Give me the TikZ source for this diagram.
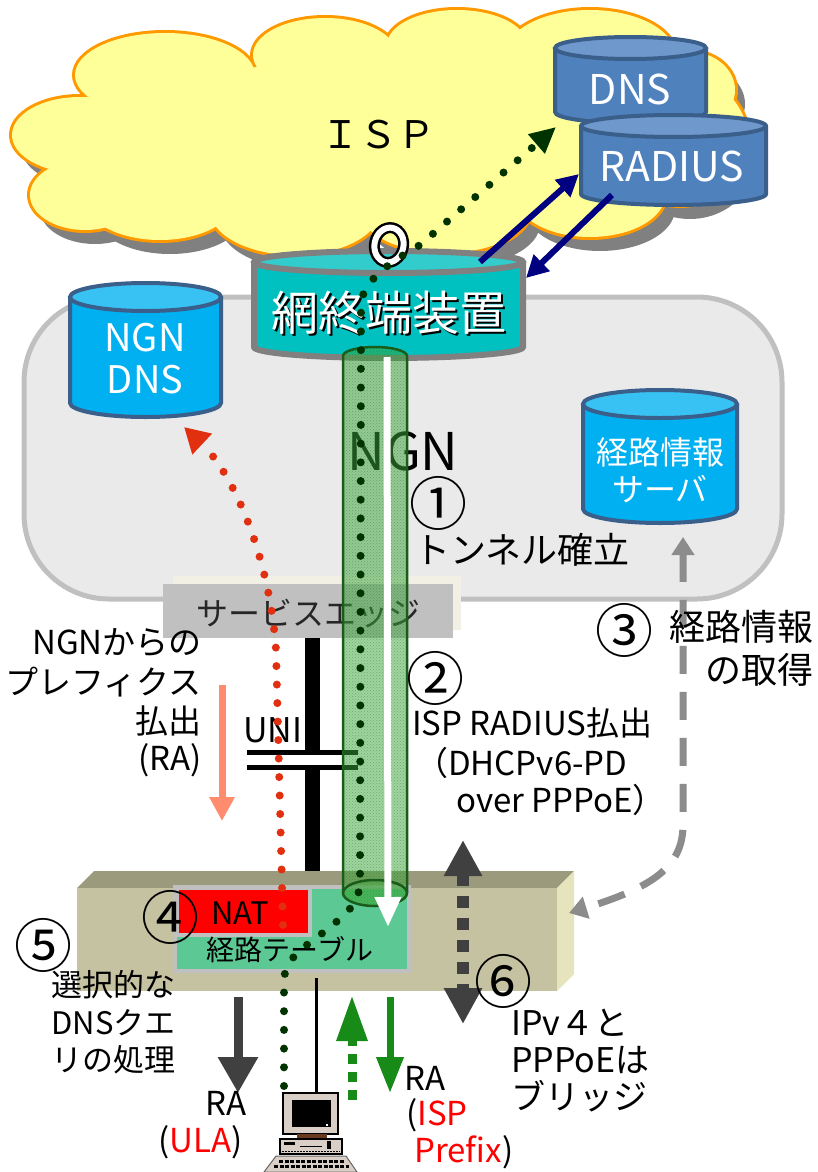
\documentclass[tikz,border=0pt]{standalone}
\usepackage{fontspec}
\setmainfont{Noto Sans CJK JP}
\usetikzlibrary{arrows.meta,patterns}

\definecolor{cloudfill}{HTML}{FFFF99}
\definecolor{cloudedge}{HTML}{FF9900}
\definecolor{cloudshadow}{HTML}{808080}
\definecolor{ngnfill}{HTML}{EAEAEA}
\definecolor{ngnedge}{HTML}{C0C0C0}
\definecolor{bluebody}{HTML}{4F81BD}
\definecolor{bluelid}{HTML}{6F99CC}
\definecolor{blueedge}{HTML}{3A5F8B}
\definecolor{cyanbody}{HTML}{00B0F0}
\definecolor{cyanlid}{HTML}{38C2F4}
\definecolor{tealbody}{HTML}{00C0C0}
\definecolor{teallid}{HTML}{33CCCC}
\definecolor{tealedge}{HTML}{808080}
\definecolor{edgegray}{HTML}{C0C0C0}
\definecolor{edgecream}{HTML}{F2F0E4}
\definecolor{boxfront}{HTML}{C4C2A0}
\definecolor{boxtop}{HTML}{9C9A7C}
\definecolor{boxside}{HTML}{E6E4BC}
\definecolor{tablegreen}{HTML}{5CC994}
\definecolor{natred}{HTML}{FF0000}
\definecolor{dotgreen}{HTML}{003300}
\definecolor{dotred}{HTML}{E03010}
\definecolor{navyline}{HTML}{000080}
\definecolor{salmonline}{HTML}{FF8C6E}
\definecolor{darkarrow}{HTML}{404040}
\definecolor{infogray}{HTML}{8C8C8C}
\definecolor{ragreen}{HTML}{178A17}
\definecolor{tunnelgreen}{HTML}{3CAA3C}
\definecolor{tunneledge}{HTML}{1A5C1A}
\definecolor{pcbeige}{HTML}{D9CFC7}
\definecolor{pcbrown}{HTML}{6B3A1E}
\definecolor{prefixred}{HTML}{FF0000}

% cylinder: left x, right x, lid centre y, base centre y, y radius, colour family
\newcommand\drawcyl[6]{%
  \pgfmathsetmacro\cylrx{(#2-#1)/2}%
  \pgfmathsetmacro\cylcx{(#1+#2)/2}%
  \fill[#6 body] (#1,#3) -- (#1,#4) arc[start angle=180,end angle=0,x radius=\cylrx,y radius=#5] -- (#2,#3) -- cycle;
  \draw[#6 edge] (#1,#3) -- (#1,#4) arc[start angle=180,end angle=0,x radius=\cylrx,y radius=#5] -- (#2,#3);
  \filldraw[#6 lid] (\cylcx,#3) ellipse[x radius=\cylrx,y radius=#5];
}

\begin{document}
\begin{tikzpicture}[x=1pt,y=-1pt,
  fs/.style={font=\fontsize{#1}{#1}\selectfont},
  lbl/.style={inner sep=0pt,text=black},
  cyltext/.style={inner sep=0pt,text=white},
  stepno/.style={inner sep=0pt,text=black,font=\fontsize{58}{58}\selectfont},
  blue body/.style={fill=bluebody},
  blue edge/.style={draw=blueedge,line width=4pt},
  blue lid/.style={fill=bluelid,draw=blueedge,line width=4pt},
  cyan body/.style={fill=cyanbody},
  cyan edge/.style={draw=blueedge,line width=4pt},
  cyan lid/.style={fill=cyanlid,draw=blueedge,line width=4pt},
  teal body/.style={fill=tealbody},
  teal edge/.style={draw=tealedge,line width=6pt},
  teal lid/.style={fill=teallid,draw=tealedge,line width=6pt},
  greendots/.style={draw=dotgreen,line width=8pt,line cap=round,dash pattern=on 0pt off 18.7pt},
  reddots/.style={draw=dotred,line width=8pt,line cap=round,dash pattern=on 0pt off 18.5pt},
  navyarrow/.style={draw=navyline,line width=6pt,-{Triangle[length=22pt,width=22pt]}},
  uniline/.style={draw=black,line width=15pt},
  unigap/.style={draw=black,line width=5pt},
  infoarrow/.style={draw=infogray,line width=7pt,dash pattern=on 28pt off 18pt,
    {Triangle[length=18pt,width=22pt]}-{Triangle[length=18pt,width=22pt]}},
  bridgearrow/.style={draw=darkarrow,line width=12pt,dash pattern=on 12pt off 10pt,
    {Triangle[length=36pt,width=36pt]}-{Triangle[length=36pt,width=36pt]}},
]
\fill[white] (0,0) rectangle (818,1172);
\useasboundingbox (0,0) rectangle (818,1172);

% ---------- ISP cloud ----------
\def\puffs{80/135/68/38, 165/75/90/42, 325/55/72/37, 457/45/70/35, 590/55/85/45,
  690/90/45/38, 680/140/68/65, 590/195/75/42, 445/210/85/43, 295/210/85/45,
  160/200/75/40, 85/195/55/35}
\foreach \cx/\cy/\rx/\ry in \puffs {\fill[cloudshadow] (\cx+10,\cy+14) ellipse[x radius=\rx,y radius=\ry];}
\fill[cloudshadow] (390,154) ellipse[x radius=300,y radius=80];
\foreach \cx/\cy/\rx/\ry in \puffs {\draw[cloudedge,line width=6pt] (\cx,\cy) ellipse[x radius=\rx,y radius=\ry];}
\foreach \cx/\cy/\rx/\ry in \puffs {\fill[cloudfill] (\cx,\cy) ellipse[x radius=\rx,y radius=\ry];}
\fill[cloudfill] (380,140) ellipse[x radius=300,y radius=80];
\node[lbl,fs=38] (isp) at (378,135) {ＩＳＰ};

% ---------- NGN area ----------
\filldraw[fill=ngnfill,draw=ngnedge,line width=5pt,rounded corners=85pt] (24,297) rectangle (782,599);

% ISP servers
\drawcyl{555}{706}{48}{112}{11}{blue}
\node[cyltext,fs=41] (dns) at (630,89) {DNS};
\drawcyl{581}{766}{126}{194}{11}{blue}
\node[cyltext,fs=41] (radius) at (672,166) {RADIUS};

% NGN servers
\drawcyl{70}{221}{297}{403}{14}{cyan}
\node[cyltext,fs=38] (ngndns1) at (145,338) {NGN};
\node[cyltext,fs=38] (ngndns2) at (145,380) {DNS};
\drawcyl{583}{737}{404}{509}{14}{cyan}
\node[cyltext,fs=32] (route1) at (660,452) {経路情報};
\node[cyltext,fs=32] (route2) at (660,489) {サーバ};

% service edge
\fill[edgecream] (173,576) rectangle (461,630);
\fill[edgegray] (163,584) rectangle (453,638);
\node[lbl,fs=32,text=black!85] (edge) at (308,614) {サービスエッジ};

% NGN caption and step 1
\node[lbl,fs=52] (ngn) at (403,451) {NGN};
\node[stepno] (s1) at (438,503) {①};
\node[lbl,fs=36,anchor=west] (s1t) at (414,550) {トンネル確立};

% UNI
\draw[uniline] (312,638) -- (312,752);
\draw[uniline] (312,767) -- (312,872);
\draw[unigap] (247,752) -- (358,752);
\draw[unigap] (247,767) -- (358,767);
\node[lbl,fs=34] (uni) at (273,730) {UNI};

% prefix from NGN
\draw[draw=salmonline,line width=7pt,-{Triangle[length=24pt,width=24pt]}] (222,685) -- (222,821);
\node[lbl,fs=33,anchor=east] (p1) at (202,643) {NGNからの};
\node[lbl,fs=33,anchor=east] (p2) at (202,682) {プレフィクス};
\node[lbl,fs=33,anchor=east] (p3) at (202,721) {払出};
\node[lbl,fs=33,anchor=east] (p4) at (202,760) {(RA)};

% ---------- home router ----------
\fill[boxtop] (77,888) -- (94,871) -- (574,871) -- (557,888) -- cycle;
\fill[boxside] (557,888) -- (574,871) -- (574,974) -- (557,991) -- cycle;
\fill[boxfront] (77,888) rectangle (557,991);
\fill[edgegray] (173,885) rectangle (411,973);
\fill[tablegreen] (177,889) rectangle (407,969);
\fill[edgegray] (175,886) rectangle (312,937);
\fill[natred] (179,890) rectangle (308,933);
\node[lbl,fs=31] (nat) at (240,913) {NAT};
\node[lbl,fs=28] (table) at (290,950) {経路テーブル};
\node[stepno] (s4) at (170,917) {④};

% ---------- BRAS ----------
\drawcyl{254}{523}{262}{347}{11}{teal}
\node[lbl,fs=47,text=black] at (391,315) {網終端装置};
\node[lbl,fs=47,text=white] (bras) at (389,313) {網終端装置};

% ---------- tunnel ----------
\fill[tunnelgreen,fill opacity=0.5] (343,356) arc[start angle=180,end angle=360,x radius=32,y radius=9]
  -- (407,893) arc[start angle=0,end angle=180,x radius=32,y radius=13] -- cycle;
\fill[pattern=crosshatch dots,pattern color=tunneledge,fill opacity=0.35] (343,356) arc[start angle=180,end angle=360,x radius=32,y radius=9]
  -- (407,893) arc[start angle=0,end angle=180,x radius=32,y radius=13] -- cycle;
\fill[tunnelgreen,fill opacity=0.3] (375,893) ellipse[x radius=32,y radius=13];
\draw[tunneledge,line width=2.5pt] (343,356) arc[start angle=180,end angle=360,x radius=32,y radius=9]
  -- (407,893) arc[start angle=0,end angle=180,x radius=32,y radius=13] -- cycle;
\draw[tunneledge,line width=2.5pt] (407,893) arc[start angle=0,end angle=-180,x radius=32,y radius=13];
\draw[white,line width=7pt,-{Triangle[length=30pt,width=25pt]}] (387,357) -- (388,927);

% ---------- session marker ----------
\draw[black,line width=11pt,rotate around={-12:(389,245)}] (389,245) ellipse[x radius=14.5,y radius=17.5];
\draw[white,line width=6pt,rotate around={-12:(389,245)}] (389,245) ellipse[x radius=14.5,y radius=17.5];

% ---------- flows ----------
\coordinate (pcTop) at (284,1086);
\coordinate (dnsIn) at (556,127);
\coordinate (ngnDnsIn) at (184,427);
\coordinate (natOut) at (283,925);
\draw[reddots,-{Triangle[length=25pt,width=27pt]}] (natOut) -- (276,650)
  .. controls (270,560) and (235,475) .. (ngnDnsIn);
\draw[greendots,-{Triangle[length=26pt,width=24pt]}] (pcTop) -- (284,980)
  .. controls (285,960) and (300,950) .. (320,935)
  .. controls (345,915) and (360,905) .. (360,880) -- (361,305)
  .. controls (362,285) and (380,268) .. (420,245) -- (dnsIn);

\coordinate (brasOut) at (480,262);
\coordinate (radiusIn) at (579,174);
\coordinate (radiusOut) at (612,195);
\coordinate (brasIn) at (526,278);
\draw[navyarrow] (brasOut) -- (radiusIn);
\draw[navyarrow] (radiusOut) -- (brasIn);

% step 2
\node[stepno] (s2) at (435,678) {②};
\node[lbl,fs=33,anchor=west] (s2a) at (412,723) {ISP RADIUS払出};
\node[lbl,fs=33,anchor=west] (s2b) at (415,763) {（DHCPv6-PD};
\node[lbl,fs=33,anchor=west] (s2c) at (456,800) {over PPPoE）};

% step 3
\coordinate (routeOut) at (683,537);
\coordinate (boxIn) at (569,913);
\draw[infoarrow] (routeOut) -- (683,825) .. controls (683,868) and (650,888) .. (boxIn);
\node[stepno] (s3) at (624,630) {③};
\node[lbl,fs=36,anchor=east] (s3a) at (814,627) {経路情報};
\node[lbl,fs=36,anchor=east] (s3b) at (814,670) {の取得};

% step 6
\coordinate (bridgeTop) at (463,840);
\coordinate (bridgeBottom) at (463,1024);
\draw[bridgearrow] (bridgeTop) -- (bridgeBottom);
\node[stepno] (s6) at (503,981) {⑥};
\node[lbl,fs=34,anchor=west] (s6a) at (511,1023) {IPv４と};
\node[lbl,fs=34,anchor=west] (s6b) at (511,1060) {PPPoEは};
\node[lbl,fs=34,anchor=west] (s6c) at (511,1096) {ブリッジ};

% step 5
\node[stepno] (s5) at (43,945) {⑤};
\node[lbl,fs=31,anchor=east] (s5a) at (176,985) {選択的な};
\node[lbl,fs=31,anchor=east] (s5b) at (176,1023) {DNSクエ};
\node[lbl,fs=31,anchor=east] (s5c) at (176,1060) {リの処理};

% ---------- terminal side ----------
\coordinate (boxBottomA) at (238,997);
\coordinate (ulaTip) at (238,1093);
\draw[draw=darkarrow,line width=9pt,-{Triangle[length=36pt,width=38pt]}] (boxBottomA) -- (ulaTip);
\node[lbl,fs=33,anchor=east] (raL) at (247,1103) {RA};
\node[lbl,fs=33,anchor=east] (ula) at (243,1142) {(\textcolor{prefixred}{ULA})};

\coordinate (pcUp) at (352,1100);
\coordinate (boxBottomB) at (352,995);
\draw[draw=ragreen,line width=9pt,dash pattern=on 10pt off 8pt,-{Triangle[length=46pt,width=29pt]}] (pcUp) -- (boxBottomB);
\coordinate (boxBottomC) at (390,997);
\coordinate (pcDown) at (390,1093);
\draw[draw=ragreen,line width=7pt,-{Triangle[length=36pt,width=26pt]}] (boxBottomC) -- (pcDown);
\node[lbl,fs=33,anchor=west] (raR) at (404,1078) {RA};
\node[lbl,fs=33,anchor=west] (ispp) at (406,1115) {(\textcolor{prefixred}{ISP}};
\node[lbl,fs=33,anchor=west] (prefix) at (414,1152) {\textcolor{prefixred}{Prefix})};

% link to the terminal
\coordinate (boxCable) at (316,978);
\coordinate (pcCable) at (316,1093);
\draw[black,line width=3pt] (boxCable) -- (pcCable);

% terminal
\filldraw[fill=pcbeige,draw=black,line width=1.2pt] (283,1093) rectangle (338,1134);
\fill[black] (292,1100) rectangle (331,1127);
\fill[white] (326,1124) rectangle (328,1126);
\fill[pcbrown] (297,1134) rectangle (327,1139);
\filldraw[fill=pcbeige,draw=black,line width=1.2pt] (280,1139) rectangle (342,1154);
\fill[black] (284,1142) rectangle (295,1145);
\draw[black,line width=1pt] (300,1146) -- (322,1146);
\fill[black] (327,1141) rectangle (331,1149);
\draw[black,line width=1pt,dash pattern=on 2pt off 1pt] (282,1151) -- (340,1151);
\filldraw[fill=pcbeige,draw=black!60,line width=1pt] (276,1156) -- (346,1156) -- (357,1172) -- (264,1172) -- cycle;
\draw[black,line width=3pt,dash pattern=on 4pt off 1.5pt] (279,1161) -- (344,1161);
\draw[black,line width=3pt,dash pattern=on 4pt off 1.5pt] (274,1166) -- (349,1166);
\end{tikzpicture}
\end{document}
